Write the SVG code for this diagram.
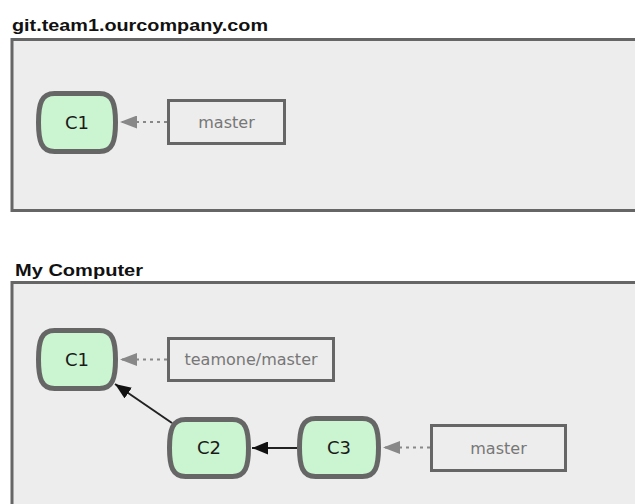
<svg xmlns="http://www.w3.org/2000/svg" width="635" height="504" viewBox="0 0 635 504">
<style>
.title{font-family:"Liberation Sans",Arial,sans-serif;font-weight:bold;font-size:17px;fill:#111}
.area{fill:#ededed;stroke:#666;stroke-width:3}
.commit{fill:#cbf4d1;stroke:#666;stroke-width:5}
.ctext{font-family:"DejaVu Sans",sans-serif;font-size:18px;fill:#1a1a1a;text-anchor:middle}
.branch{fill:#ededed;stroke:#666;stroke-width:3}
.btext{font-family:"DejaVu Sans",sans-serif;font-size:16px;fill:#777;text-anchor:middle}
.dot{stroke:#888;stroke-width:2;stroke-dasharray:3 4;fill:none}
.solid{stroke:#222;stroke-width:2;fill:none}
</style>
<defs>
<marker id="ah-gray" viewBox="0 0 10 10" refX="10" refY="5" markerWidth="17" markerHeight="13" markerUnits="userSpaceOnUse" orient="auto" preserveAspectRatio="none">
<path d="M0,0 L10,5 L0,10 Z" fill="#888"/>
</marker>
<marker id="ah-black" viewBox="0 0 10 10" refX="10" refY="5" markerWidth="16" markerHeight="13" markerUnits="userSpaceOnUse" orient="auto" preserveAspectRatio="none">
<path d="M0,0 L10,5 L0,10 Z" fill="#111"/>
</marker>
</defs>
<rect width="635" height="504" fill="#ffffff"/>

<g id="remote-area">
<text class="title" x="12" y="31" textLength="256" lengthAdjust="spacingAndGlyphs">git.team1.ourcompany.com</text>
<rect class="area" x="12" y="39.5" width="640" height="171"/>
</g>

<g id="local-area">
<text class="title" x="15" y="276" textLength="128" lengthAdjust="spacingAndGlyphs">My Computer</text>
<rect class="area" x="12" y="282.5" width="640" height="240"/>
</g>

<g id="remote-C1">
<path class="commit" d="M54.5,93.5 H99.5 C112.5,93.5 115.5,103.5 115.5,122.5 C115.5,141.5 112.5,151.5 99.5,151.5 H54.5 C41.5,151.5 38.5,141.5 38.5,122.5 C38.5,103.5 41.5,93.5 54.5,93.5 Z"/>
<text class="ctext" x="77" y="129">C1</text>
</g>

<g id="remote-master">
<rect class="branch" x="168.5" y="100.5" width="116" height="43"/>
<text class="btext" x="226.5" y="128">master</text>
</g>

<g id="local-C1">
<path class="commit" d="M54.5,330.5 H99.5 C112.5,330.5 115.5,340.5 115.5,359.5 C115.5,378.5 112.5,388.5 99.5,388.5 H54.5 C41.5,388.5 38.5,378.5 38.5,359.5 C38.5,340.5 41.5,330.5 54.5,330.5 Z"/>
<text class="ctext" x="77" y="366">C1</text>
</g>

<g id="teamone-master">
<rect class="branch" x="168.5" y="338.5" width="165" height="42"/>
<text class="btext" x="251" y="365">teamone/master</text>
</g>

<g id="local-C2">
<path class="commit" d="M185.5,419.5 H232.5 C245.5,419.5 248.5,429.5 248.5,448 C248.5,466.5 245.5,476.5 232.5,476.5 H185.5 C172.5,476.5 169.5,466.5 169.5,448 C169.5,429.5 172.5,419.5 185.5,419.5 Z"/>
<text class="ctext" x="209" y="454">C2</text>
</g>

<g id="local-C3">
<path class="commit" d="M315.5,418.5 H362.5 C375.5,418.5 378.5,428.5 378.5,447.5 C378.5,466.5 375.5,476.5 362.5,476.5 H315.5 C302.5,476.5 299.5,466.5 299.5,447.5 C299.5,428.5 302.5,418.5 315.5,418.5 Z"/>
<text class="ctext" x="339" y="454">C3</text>
</g>

<g id="local-master">
<rect class="branch" x="431.5" y="425.5" width="134" height="45"/>
<text class="btext" x="498.5" y="454">master</text>
</g>

<g id="connectors">
<line class="dot" x1="167" y1="122" x2="120" y2="122" marker-end="url(#ah-gray)"/>
<line class="dot" x1="167" y1="359.5" x2="120" y2="359.5" marker-end="url(#ah-gray)"/>
<line class="dot" x1="430" y1="447.5" x2="383" y2="447.5" marker-end="url(#ah-gray)"/>
<line class="solid" x1="297" y1="448" x2="252" y2="448" marker-end="url(#ah-black)"/>
<line class="solid" x1="172" y1="423" x2="115" y2="384" marker-end="url(#ah-black)"/>
</g>
</svg>
